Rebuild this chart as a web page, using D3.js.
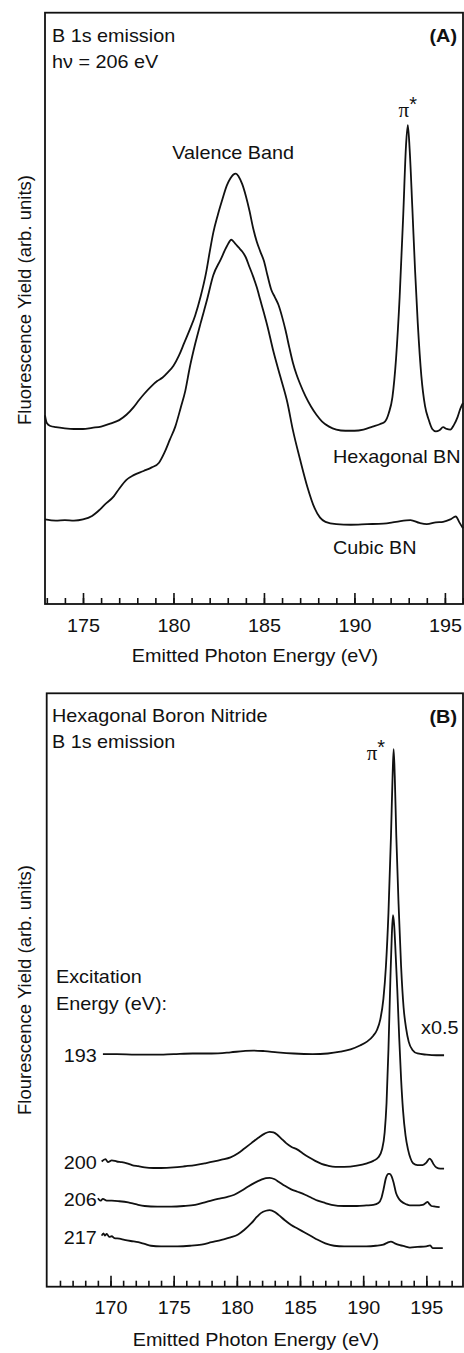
<!DOCTYPE html>
<html><head><meta charset="utf-8">
<script src="https://cdn.jsdelivr.net/npm/d3@7"></script>
<style>
html,body{margin:0;padding:0;background:#fff;}
svg{display:block;}
text{font-family:"Liberation Sans",Arial,Helvetica,sans-serif;fill:#111;}
</style></head><body>
<div id="chart"></div>
<script>
// ---------- Panel A data ----------
const majorTicksA = [175, 180, 185, 190, 195];
const minorTicksA = [173,174,175,176,177,178,179,180,181,182,183,184,185,186,187,188,189,190,191,192,193,194,195,196];
const hexagonalBN = [[172.9,31.9],[173.0,30.6],[173.2,30.1],[173.5,29.9],[174.0,29.7],[174.5,29.6],[175.0,29.6],[175.5,29.8],[176.0,30.0],[176.5,30.5],[177.0,31.1],[177.4,32.0],[177.8,33.3],[178.1,34.5],[178.4,35.6],[178.8,36.9],[179.1,37.7],[179.4,38.3],[179.7,39.2],[180.0,40.3],[180.3,42.0],[180.6,44.2],[180.9,46.4],[181.2,48.8],[181.5,52.0],[181.8,56.0],[182.0,59.5],[182.2,62.8],[182.45,65.8],[182.7,68.4],[182.95,70.8],[183.15,72.0],[183.3,72.6],[183.45,72.8],[183.6,72.3],[183.8,71.0],[184.0,69.0],[184.2,66.5],[184.4,63.6],[184.6,61.3],[184.8,59.6],[185.0,58.0],[185.2,55.5],[185.4,53.2],[185.6,51.9],[185.8,50.6],[186.0,48.6],[186.2,46.2],[186.4,43.4],[186.6,40.8],[186.8,38.8],[187.0,37.2],[187.3,35.1],[187.6,33.4],[187.9,32.0],[188.2,30.9],[188.6,30.0],[189.0,29.5],[189.5,29.3],[190.0,29.3],[190.5,29.5],[191.0,30.0],[191.4,30.4],[191.7,30.9],[191.9,32.3],[192.1,35.0],[192.3,41.5],[192.5,52.0],[192.7,66.0],[192.85,77.5],[192.95,81.0],[193.05,77.0],[193.2,67.0],[193.35,56.5],[193.5,47.5],[193.7,38.5],[193.9,33.5],[194.1,31.2],[194.3,29.6],[194.5,29.2],[194.7,29.4],[194.9,29.9],[195.1,29.6],[195.3,29.5],[195.5,30.3],[195.7,31.6],[195.85,33.0],[196.0,34.0]];
const cubicBN = [[172.9,14.3],[173.5,14.1],[174.0,14.2],[174.5,14.1],[175.0,14.3],[175.5,14.9],[175.8,15.6],[176.2,16.8],[176.7,18.2],[177.0,19.5],[177.4,21.0],[177.8,21.8],[178.35,22.5],[178.8,23.1],[179.2,23.9],[179.5,25.6],[179.8,27.8],[180.1,30.0],[180.4,33.2],[180.65,36.0],[180.9,40.0],[181.2,44.0],[181.5,47.5],[181.85,51.4],[182.2,55.6],[182.6,58.2],[182.95,60.5],[183.2,61.6],[183.4,61.0],[183.6,60.3],[183.8,59.6],[184.0,58.6],[184.2,57.0],[184.4,55.4],[184.6,53.6],[184.8,51.4],[185.0,49.2],[185.2,46.9],[185.5,43.0],[185.9,38.5],[186.3,34.0],[186.6,29.4],[187.0,24.4],[187.4,19.8],[187.8,16.2],[188.1,14.6],[188.4,13.9],[189.0,13.5],[189.8,13.4],[190.7,13.5],[191.6,13.6],[192.3,13.9],[193.1,14.2],[193.6,13.7],[194.0,13.5],[194.5,13.8],[194.9,13.9],[195.3,14.3],[195.6,14.8],[195.8,13.8],[196.0,12.8]];

// ---------- Panel B data ----------
const majorTicksB = [170, 175, 180, 185, 190, 195];
const minorTicksB = [166,167,168,169,170,171,172,173,174,175,176,177,178,179,180,181,182,183,184,185,186,187,188,189,190,191,192,193,194,195,196,197];
const excitationEnergies = ["193", "200", "206", "217"];
const exc193 = [[169.4,39.2],[170.5,39.2],[172,39.1],[173.5,39.1],[175,39.2],[176.5,39.3],[178,39.3],[179.5,39.5],[180.5,39.7],[181.3,39.8],[182.2,39.7],[183.2,39.5],[184.5,39.3],[186,39.2],[187.2,39.3],[188.2,39.6],[189.0,40.0],[189.7,40.6],[190.3,41.3],[190.8,42.3],[191.1,43.3],[191.35,45.0],[191.6,48.5],[191.8,54.0],[192.0,63.0],[192.2,76.0],[192.32,85.5],[192.41,90.6],[192.5,86.0],[192.62,76.0],[192.8,64.5],[193.0,54.0],[193.2,47.0],[193.4,43.5],[193.6,41.3],[193.9,39.9],[194.3,39.3],[195.0,39.1],[195.8,39.0],[196.4,39.0]];
const exc200 = [[169.3,21.1],[169.6,21.5],[169.8,21.0],[170.1,21.3],[170.5,21.1],[170.9,21.0],[171.3,20.8],[171.7,20.5],[172.2,20.3],[172.7,20.1],[173.4,20.0],[174.0,20.0],[175.0,20.1],[175.9,20.3],[176.7,20.5],[177.5,20.8],[178.2,21.1],[178.8,21.4],[179.5,21.8],[180.1,22.5],[180.6,23.3],[181.15,24.2],[181.7,25.1],[182.2,25.8],[182.6,26.1],[182.9,26.0],[183.2,25.6],[183.5,25.0],[183.9,24.2],[184.3,23.6],[184.8,23.1],[185.2,22.5],[185.7,21.8],[186.2,21.2],[186.7,20.7],[187.2,20.4],[187.8,20.2],[188.5,20.2],[189.5,20.4],[190.3,20.8],[190.8,21.2],[191.2,21.8],[191.5,23.2],[191.7,26.0],[191.85,31.0],[192.0,40.0],[192.15,51.7],[192.27,59.5],[192.36,62.6],[192.45,61.0],[192.57,56.0],[192.7,50.0],[192.85,42.0],[193.0,35.0],[193.15,29.8],[193.35,25.5],[193.55,23.1],[193.75,21.6],[193.95,20.8],[194.3,20.5],[194.7,20.5],[195.0,20.9],[195.25,21.6],[195.4,21.3],[195.55,20.7],[195.8,20.1],[196.1,19.9],[196.4,19.9]];
const exc206 = [[169.0,14.9],[169.2,14.5],[169.4,14.8],[169.7,14.5],[170.1,14.5],[170.7,14.4],[171.4,14.2],[172.0,13.9],[172.7,13.6],[173.7,13.5],[174.8,13.5],[175.8,13.6],[176.7,13.8],[177.6,14.3],[178.5,14.8],[179.2,15.1],[179.8,15.5],[180.4,16.2],[180.9,16.9],[181.4,17.5],[181.9,18.0],[182.3,18.3],[182.6,18.35],[183.0,18.1],[183.3,17.7],[183.8,17.0],[184.3,16.4],[184.8,16.0],[185.4,15.5],[185.9,15.0],[186.4,14.5],[187.0,14.1],[187.5,13.8],[188.5,13.6],[189.5,13.6],[190.25,13.7],[190.8,13.8],[191.2,14.1],[191.45,15.0],[191.6,16.3],[191.8,18.3],[192.0,19.0],[192.1,19.0],[192.25,18.6],[192.4,17.6],[192.6,15.8],[192.8,14.9],[193.0,14.4],[193.4,13.9],[193.7,13.7],[194.2,13.7],[194.7,13.8],[194.95,14.1],[195.1,14.3],[195.25,13.9],[195.4,13.6],[195.7,13.5],[196.05,13.4]];
const exc217 = [[169.3,8.6],[169.45,9.0],[169.55,8.6],[169.7,8.9],[169.9,8.4],[170.1,8.5],[170.3,8.2],[170.7,8.1],[171.1,7.9],[171.6,7.7],[172.2,7.5],[172.7,7.2],[173.2,6.9],[174.0,6.8],[175.3,6.8],[176.3,6.9],[177.2,7.1],[178.0,7.5],[178.8,7.9],[179.5,8.3],[180.1,8.8],[180.6,9.6],[181.15,10.7],[181.6,11.8],[181.9,12.4],[182.3,12.8],[182.6,12.9],[183.0,12.6],[183.3,12.1],[183.8,11.2],[184.3,10.4],[184.8,9.8],[185.4,9.1],[185.9,8.5],[186.4,7.9],[187.0,7.3],[187.7,6.9],[188.5,6.8],[189.5,6.8],[190.25,6.8],[191.0,6.9],[191.6,7.1],[191.9,7.4],[192.2,7.6],[192.5,7.3],[192.9,7.0],[193.3,6.8],[193.7,6.6],[194.3,6.7],[195.0,6.8],[195.3,6.95],[195.5,6.5],[195.9,6.5],[196.3,6.5]];

// ---------- drawing ----------
const W = 464, H = 1353, SX = 1.1, FS = 18, INK = "#111";
const svg = d3.select("#chart").append("svg").attr("width", W).attr("height", H);

function txt(parent, x, y, s, anchor = "start", weight = "normal") {
  return parent.append("text")
    .attr("transform", `translate(${x},${y}) scale(${SX},1)`)
    .attr("text-anchor", anchor).attr("font-size", FS).attr("font-weight", weight)
    .text(s);
}
function piStar(parent, x, y, size) {
  const t = parent.append("text").attr("transform", `translate(${x},${y})`).attr("text-anchor", "middle");
  t.append("tspan").attr("font-family", "'Liberation Serif','Times New Roman',serif").attr("font-size", size).text("π");
  t.append("tspan").attr("font-size", size * 0.95).attr("dy", -6).text("*");
}

function panel(cfg) {
  const g = svg.append("g");
  const x = d3.scaleLinear().domain(cfg.xDomain).range([cfg.left, cfg.right]);
  const y = d3.scaleLinear().domain([0, 100]).range([cfg.bottom, cfg.top]);
  g.append("rect").attr("x", cfg.left).attr("y", cfg.top)
    .attr("width", cfg.right - cfg.left).attr("height", cfg.bottom - cfg.top)
    .attr("fill", "none").attr("stroke", INK).attr("stroke-width", 1.8);
  const gm = g.append("g").attr("transform", `translate(0,${cfg.bottom})`)
    .call(d3.axisBottom(x).tickValues(cfg.minor).tickSize(-6).tickFormat(""));
  gm.select(".domain").remove();
  const gM = g.append("g").attr("transform", `translate(0,${cfg.bottom})`)
    .call(d3.axisBottom(x).tickValues(cfg.major).tickSize(-11).tickPadding(15).tickFormat(d3.format("d")));
  gM.select(".domain").remove();
  [gm, gM].forEach(a => {
    a.attr("font-family", null).attr("font-size", FS).attr("color", INK);
    a.selectAll("line").attr("stroke-width", 1.6);
  });
  gM.selectAll("text").attr("transform", `scale(${SX},1)`);
  txt(g, (cfg.left + cfg.right) / 2 + 1, cfg.xTitleY, "Emitted Photon Energy (eV)", "middle");
  g.append("text").attr("transform", `translate(31,${cfg.yTitleC}) rotate(-90)`)
    .attr("text-anchor", "middle").attr("font-size", 18.5).text(cfg.yTitle);
  const line = d3.line().x(d => x(d[0])).y(d => y(d[1])).curve(d3.curveMonotoneX);
  cfg.series.forEach(s => {
    g.append("path").datum(s).attr("d", line)
      .attr("fill", "none").attr("stroke", INK).attr("stroke-width", 1.8)
      .attr("stroke-linejoin", "round");
  });
  return { g, x, y };
}

// Panel A
const A = panel({
  xDomain: [172.9, 196.0], left: 45, right: 463, top: 12.7, bottom: 604,
  major: majorTicksA, minor: minorTicksA, xTitleY: 662, yTitleC: 300,
  yTitle: "Fluorescence Yield (arb. units)", series: [hexagonalBN, cubicBN]
});
txt(A.g, 52, 41.5, "B 1s emission");
txt(A.g, 52, 68, "hν = 206 eV");
txt(A.g, 457, 41.5, "(A)", "end", "bold");
txt(A.g, A.x(183.3), 159, "Valence Band", "middle");
piStar(A.g, A.x(192.95), 117, 21);
txt(A.g, 333, 463, "Hexagonal BN");
txt(A.g, 333, 554, "Cubic BN");

// Panel B
const B = panel({
  xDomain: [164.95, 197.9], left: 46.7, right: 463, top: 693.3, bottom: 1286.7,
  major: majorTicksB, minor: minorTicksB, xTitleY: 1346, yTitleC: 990,
  yTitle: "Flourescence Yield (arb. units)", series: [exc193, exc200, exc206, exc217]
});
txt(B.g, 52, 722, "Hexagonal Boron Nitride");
txt(B.g, 52, 748, "B 1s emission");
txt(B.g, 457, 723, "(B)", "end", "bold");
piStar(B.g, B.x(191.0), 760, 21);
txt(B.g, 56, 983, "Excitation");
txt(B.g, 56, 1010, "Energy (eV):");
txt(B.g, 421, 1034, "x0.5");
[exc193, exc200, exc206, exc217].forEach((s, i) => {
  txt(B.g, B.x(169.0) - 1, B.y(s[0][1]) + 8, excitationEnergies[i], "end");
});
</script>
</body></html>
